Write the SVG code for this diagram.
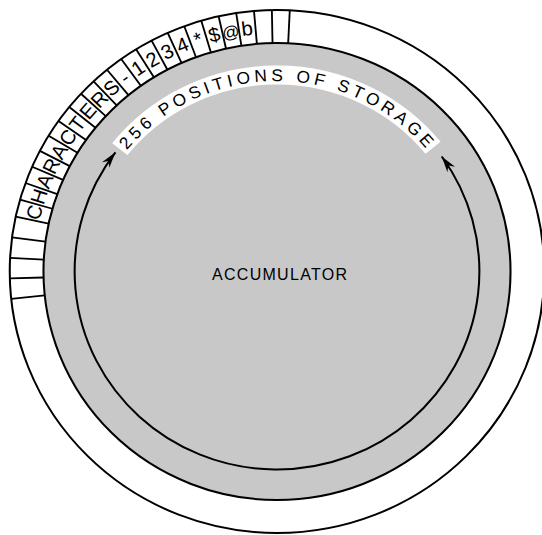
<svg xmlns="http://www.w3.org/2000/svg" width="542" height="535" viewBox="0 0 542 535">
<style>
.ln{fill:none;stroke:#000;stroke-width:2}
.div{stroke:#000;stroke-width:1.8}
.ch{font-family:"Liberation Sans",Arial,sans-serif;font-size:20px;text-anchor:middle;fill:#000}
.arc{font-family:"Liberation Sans",Arial,sans-serif;font-size:17px;fill:#000;letter-spacing:4px}
.acc{font-family:"Liberation Sans",Arial,sans-serif;font-size:16px;fill:#000}
</style>
<defs>
<marker id="ah" viewBox="-16 -5 17 10" refX="0" refY="0" markerWidth="17" markerHeight="10" markerUnits="userSpaceOnUse" orient="auto-start-reverse">
<path d="M0,0 L-16,-4.6 L-11,0 L-16,4.6 Z" fill="#000"/>
</marker>
<path id="tp" d="M-190.5,0 A190.5,190.5 0 0 1 190.5,0"/>
</defs>
<rect width="542" height="535" fill="#fff"/>
<g transform="translate(277,271.5) scale(1.022,1)">
<g id="storage-ring">
<circle r="261.5" fill="#fff" stroke="#000" stroke-width="2"/>
<circle r="228.5" fill="#c8c8c8" stroke="#000" stroke-width="2"/>
</g>
<g id="storage-cells">
<g class="div">
<line x1="0" y1="-228.5" x2="0" y2="-261.5" transform="rotate(264)"/>
<line x1="0" y1="-228.5" x2="0" y2="-261.5" transform="rotate(268.5)"/>
<line x1="0" y1="-228.5" x2="0" y2="-261.5" transform="rotate(273)"/>
<line x1="0" y1="-228.5" x2="0" y2="-261.5" transform="rotate(277.5)"/>
<line x1="0" y1="-228.5" x2="0" y2="-261.5" transform="rotate(282.1)"/>
<line x1="0" y1="-228.5" x2="0" y2="-261.5" transform="rotate(285.94)"/>
<line x1="0" y1="-228.5" x2="0" y2="-261.5" transform="rotate(289.78)"/>
<line x1="0" y1="-228.5" x2="0" y2="-261.5" transform="rotate(293.62)"/>
<line x1="0" y1="-228.5" x2="0" y2="-261.5" transform="rotate(297.46)"/>
<line x1="0" y1="-228.5" x2="0" y2="-261.5" transform="rotate(301.3)"/>
<line x1="0" y1="-228.5" x2="0" y2="-261.5" transform="rotate(305.14)"/>
<line x1="0" y1="-228.5" x2="0" y2="-261.5" transform="rotate(308.98)"/>
<line x1="0" y1="-228.5" x2="0" y2="-261.5" transform="rotate(312.82)"/>
<line x1="0" y1="-228.5" x2="0" y2="-261.5" transform="rotate(316.66)"/>
<line x1="0" y1="-228.5" x2="0" y2="-261.5" transform="rotate(320.5)"/>
<line x1="0" y1="-228.5" x2="0" y2="-261.5" transform="rotate(324.34)"/>
<line x1="0" y1="-228.5" x2="0" y2="-261.5" transform="rotate(328.18)"/>
<line x1="0" y1="-228.5" x2="0" y2="-261.5" transform="rotate(332.02)"/>
<line x1="0" y1="-228.5" x2="0" y2="-261.5" transform="rotate(335.86)"/>
<line x1="0" y1="-228.5" x2="0" y2="-261.5" transform="rotate(339.7)"/>
<line x1="0" y1="-228.5" x2="0" y2="-261.5" transform="rotate(343.54)"/>
<line x1="0" y1="-228.5" x2="0" y2="-261.5" transform="rotate(347.38)"/>
<line x1="0" y1="-228.5" x2="0" y2="-261.5" transform="rotate(351.22)"/>
<line x1="0" y1="-228.5" x2="0" y2="-261.5" transform="rotate(355.06)"/>
<line x1="0" y1="-228.5" x2="0" y2="-261.5" transform="rotate(358.9)"/>
<line x1="0" y1="-228.5" x2="0" y2="-261.5" transform="rotate(362.74)"/>
</g>
<g class="ch">
<text x="0" y="-237.8" transform="rotate(284.02)">C</text>
<text x="0" y="-237.8" transform="rotate(287.86)">H</text>
<text x="0" y="-237.8" transform="rotate(291.70)">A</text>
<text x="0" y="-237.8" transform="rotate(295.54)">R</text>
<text x="0" y="-237.8" transform="rotate(299.38)">A</text>
<text x="0" y="-237.8" transform="rotate(303.22)">C</text>
<text x="0" y="-237.8" transform="rotate(307.06)">T</text>
<text x="0" y="-237.8" transform="rotate(310.90)">E</text>
<text x="0" y="-237.8" transform="rotate(314.74)">R</text>
<text x="0" y="-237.8" transform="rotate(318.58)">S</text>
<text x="0" y="-237.8" transform="rotate(322.42)">-</text>
<text x="0" y="-237.8" transform="rotate(326.26)">1</text>
<text x="0" y="-237.8" transform="rotate(330.10)">2</text>
<text x="0" y="-237.8" transform="rotate(333.94)">3</text>
<text x="0" y="-237.8" transform="rotate(337.78)">4</text>
<text x="0" y="-237.8" transform="rotate(341.62)">*</text>
<text x="0" y="-237.8" transform="rotate(345.46)">$</text>
<text x="0" y="-237.8" transform="rotate(349.30)" style="font-size:17px">@</text>
<text x="0" y="-237.8" transform="rotate(353.14)">b</text>
</g>
</g>
<g id="connectors">
<path d="M-153.8,-122.3 A196.5,196.5 0 0 1 152.7,-123.7" fill="none" stroke="#fff" stroke-width="19"/>
<path d="M161.2,-115.0 A198,198 0 1 1 -158.1,-119.2" class="ln" stroke-width="2.4" marker-start="url(#ah)" marker-end="url(#ah)"/>
</g>
<g id="storage-label">
<text class="arc" text-anchor="middle"><textPath href="#tp" startOffset="300">256 POSITIONS OF STORAGE</textPath></text>
</g>
</g>
<g id="accumulator">
<text class="acc" x="212" y="279.5" textLength="135" lengthAdjust="spacing">ACCUMULATOR</text>
</g>
</svg>
